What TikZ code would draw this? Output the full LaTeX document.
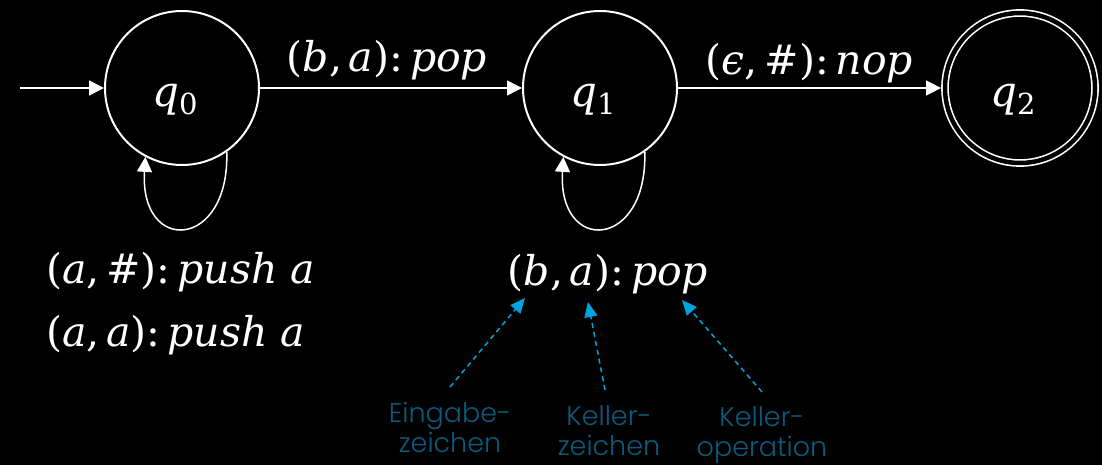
\documentclass[tikz,border=0pt]{standalone}
\usepackage{fontspec}
\usetikzlibrary{arrows.meta}
\newfontfamily\mathserif{DejaVu Serif}
\newfontfamily\notefont{Poppins Light}
\definecolor{notetext}{HTML}{0A5A7C}
\definecolor{notearrow}{HTML}{00A2DE}
\newcommand\statelab[2]{\raisebox{-19pt}[0pt][0pt]{\kern-14pt\itshape #1\raisebox{-8pt}{\upshape\fontsize{29}{29}\selectfont #2}}}
\begin{document}
\begin{tikzpicture}[x=1pt,y=-1pt,
  state/.style={circle, draw=white, line width=2pt, minimum size=154pt, inner sep=0pt, text=white, font=\mathserif\fontsize{42}{50}\selectfont},
  finalstate/.style={double=black, double distance=4.5pt, line width=1.6pt, minimum size=150pt, outer sep=3.9pt},
  edge/.style={draw=white, line width=1.5pt, -{Triangle[length=15pt,width=15pt]}},
  mlab/.style={text=white, inner sep=0pt, font=\mathserif\fontsize{41}{63}\selectfont},
  note/.style={text=notetext, inner sep=0pt, align=center, font=\notefont\fontsize{27}{30}\selectfont},
  notearr/.style={draw=notearrow, line width=1.5pt, dash pattern=on 5pt off 4pt, -{Triangle[length=15pt,width=13pt]}}
]
\fill[black] (0,0) rectangle (1102,465);
\useasboundingbox (0,0) rectangle (1102,465);

\node[state] (q0) at (182,88) {\statelab{q}{0}};
\node[state] (q1) at (600,88) {\statelab{q}{1}};
\node[state, finalstate] (q2) at (1020,88) {\statelab{q}{2}};

\coordinate (start) at (20,88);
\draw[edge] (start) -- (q0);
\draw[edge] (q0) -- node[mlab, anchor=base, xshift=-4pt, yshift=16pt] {(\textit{b},\,\textit{a}):\,\textit{pop}} (q1);
\draw[edge] (q1) -- node[mlab, anchor=base, yshift=13pt] {(\textit{ϵ},\,\#):\,\textit{nop}} (q2);

\draw[edge] (q0.-55) .. controls +(3,98) and +(-6,98) .. (q0.-118);
\draw[edge] (q1.-55) .. controls +(3,98) and +(-6,98) .. (q1.-118);

\node[mlab, anchor=north west, align=left] (l0) at (46,252) {(\textit{a},\,\#):\,\textit{push a}\\(\textit{a},\,\textit{a}):\,\textit{push a}};
\node[mlab, anchor=base] (l1) at (608,285) {(\textit{b},\,\textit{a}):\,\textit{pop}};

\node[note, anchor=north] (n1) at (450,402) {Eingabe-\\zeichen};
\node[note, anchor=north] (n2) at (609,405) {Keller-\\zeichen};
\node[note, anchor=north] (n3) at (762,406) {Keller-\\operation};

\coordinate (t1) at (525,298);
\coordinate (t2) at (588,302);
\coordinate (t3) at (682,300);
\draw[notearr] ([yshift=15pt]n1.north) -- (t1);
\draw[notearr] ([xshift=-4pt,yshift=15pt]n2.north) -- (t2);
\draw[notearr] ([yshift=14pt]n3.north) -- (t3);
\end{tikzpicture}
\end{document}
